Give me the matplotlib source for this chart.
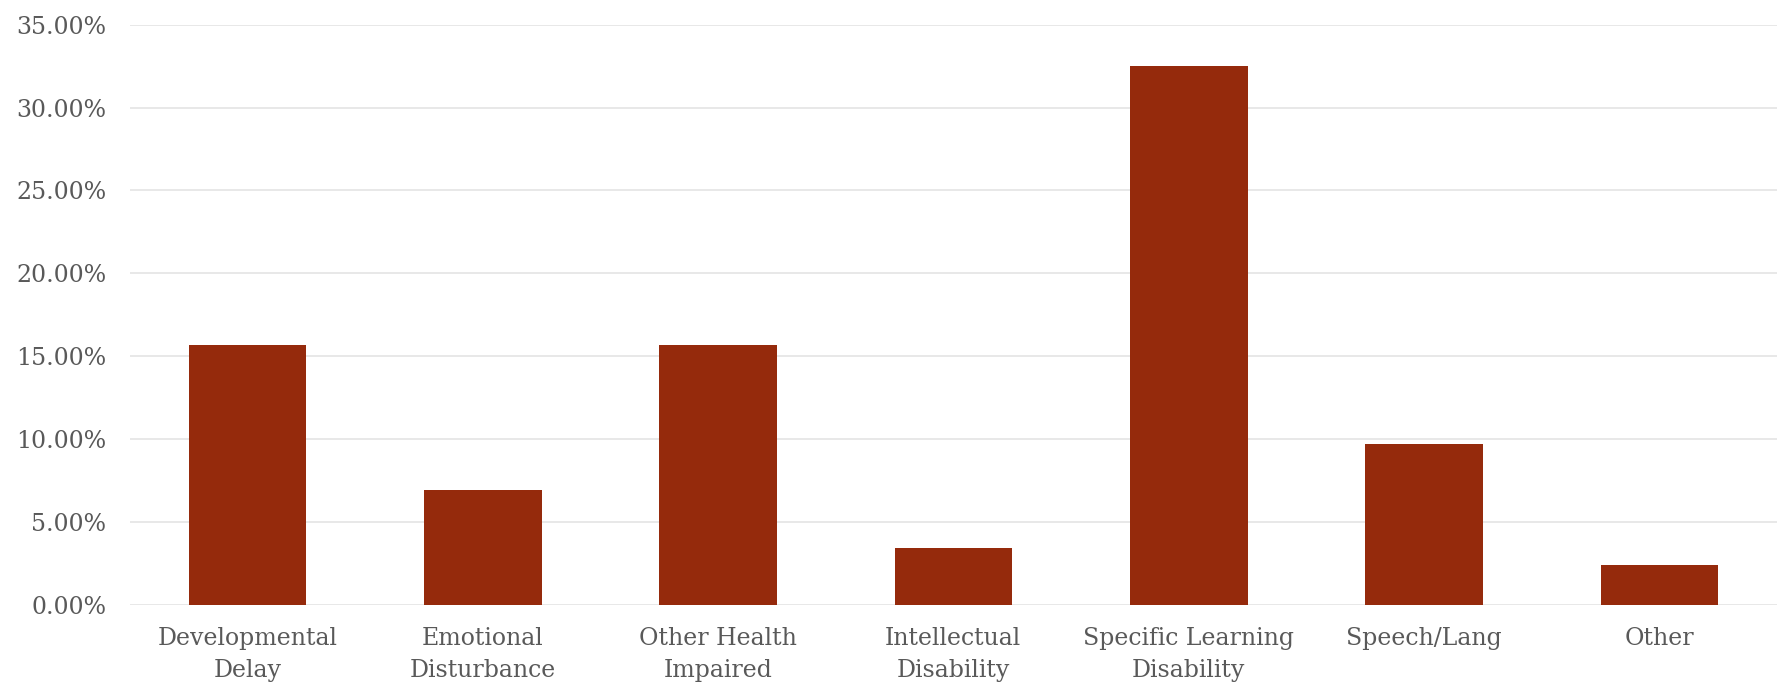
import matplotlib.pyplot as plt
from matplotlib.ticker import PercentFormatter

# 各类别及其占比
categories = ['Developmental\nDelay', 'Emotional\nDisturbance', 'Other Health\nImpaired',
              'Intellectual\nDisability', 'Specific Learning\nDisability', 'Speech/Lang', 'Other']
shares = [0.157, 0.069, 0.157, 0.034, 0.325, 0.097, 0.024]
yticks = [0, 0.05, 0.10, 0.15, 0.20, 0.25, 0.30, 0.35]

plt.rcParams['font.family'] = ['DejaVu Serif']
text_color = '#595959'

fig = plt.figure(figsize=(17.77, 6.85), dpi=100)
ax = fig.add_axes([0.073, 0.117, 0.927, 0.847])

x = range(len(categories))
ax.bar(x, shares, width=0.5, color='#952A0C', zorder=3)

ax.set_xlim(-0.5, len(categories) - 0.5)
ax.set_ylim(0, 0.35)
ax.set_yticks(yticks)
ax.yaxis.set_major_formatter(PercentFormatter(1.0, decimals=2))
ax.set_xticks(list(x))
ax.set_xticklabels(categories, linespacing=1.5)

ax.grid(axis='y', color='#e6e6e6', linewidth=1.3, zorder=0)
for s in ax.spines.values():
    s.set_visible(False)
ax.tick_params(axis='both', length=0, labelsize=17, labelcolor=text_color)
ax.tick_params(axis='x', pad=16)
ax.tick_params(axis='y', pad=17)

plt.savefig('out.png', dpi=100)
